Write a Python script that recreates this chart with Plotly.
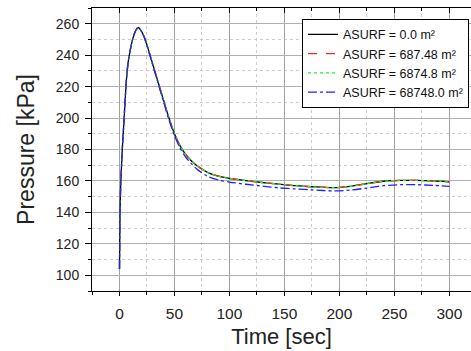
import plotly.graph_objects as go

time_s = [0, 0.5, 1, 2, 3, 4, 5, 6.5, 8, 10, 12.5, 15, 17, 19, 22, 25, 28, 31, 34, 37, 40,
          45, 50, 55, 60, 65, 70, 80, 90, 100, 115, 130, 145, 160, 175, 195, 210, 225, 240,
          255, 270, 285, 300]

p_0 = [104, 140, 155, 172, 186, 197, 210, 226, 236, 244, 251.5, 256, 257.6, 256.3, 252.5,
       246.5, 239.5, 232.5, 225.5, 218.5, 211.5, 200, 190, 182.5, 177, 173, 170, 165.5,
       163, 161.6, 160.2, 159, 158, 157, 156.3, 155.7, 156.6, 158.3, 159.8, 160.3, 160.3,
       160, 159.4]
p_687 = [104, 140, 155, 172, 186, 197, 210, 226, 236, 244, 251.5, 256, 257.6, 256.3, 252.5,
         246.5, 239.5, 232.5, 225.5, 218.5, 211.5, 200, 190, 182.5, 177, 173, 170, 165.5,
         163, 161.6, 160.2, 159, 158, 157, 156.3, 155.7, 156.6, 158.3, 159.8, 160.3, 160.3,
         160, 159.4]
p_6874 = [104, 140, 155, 172, 186, 197, 210, 226, 236, 244, 251.5, 256, 257.6, 256.3, 252.5,
          246.5, 239.5, 232.5, 225.5, 218.5, 211.5, 200, 190, 182.5, 177, 173, 170, 165.5,
          163, 161.6, 160.2, 159, 158, 157, 156.3, 155.7, 156.6, 158.3, 159.8, 160.3, 160.3,
          160, 159.4]
p_68748 = [104, 140, 155, 172, 186, 197, 210, 226, 236, 244, 251.5, 256, 257.6, 256.2, 252.2,
           246, 239, 231.8, 224.8, 217.6, 210.5, 198.8, 188.8, 181, 175.3, 171.3, 167.8, 163,
           160.6, 159.3, 157.9, 156.7, 155.6, 154.9, 154.3, 153.7, 154.2, 155.5, 157, 157.6,
           157.6, 157.2, 156.6]

names = ["ASURF = 0.0 m²", "ASURF = 687.48 m²", "ASURF = 6874.8 m²", "ASURF = 68748.0 m²"]
series = [p_0, p_687, p_6874, p_68748]
colors = ["#000000", "#ff2020", "#22ee22", "#2020ff"]
dashes = ["solid", "dash", "dot", "dashdot"]

x_major = [0, 50, 100, 150, 200, 250, 300]
y_major = [100, 120, 140, 160, 180, 200, 220, 240, 260]

fig = go.Figure()
for nm, ys, c, d in zip(names, series, colors, dashes):
    fig.add_trace(go.Scatter(x=time_s, y=ys, mode="lines", name=nm,
                             line=dict(color=c, dash=d, width=1.3, shape="spline",
                                       smoothing=0.8)))

# invisible trace to carry the top axis
fig.add_trace(go.Scatter(x=[0], y=[100], xaxis="x2", mode="markers",
                         marker=dict(opacity=0), showlegend=False, hoverinfo="skip"))

xr = [-25, 319.7]
fig.update_layout(
    width=471, height=351,
    margin=dict(l=92, r=0, t=8, b=60, autoexpand=False),
    paper_bgcolor="white", plot_bgcolor="white",
    font=dict(family="Arial, Liberation Sans, sans-serif", color="#222222"),
    showlegend=True,
    legend=dict(x=0.554, y=0.962, xanchor="left", yanchor="top",
                bgcolor="white", bordercolor="black", borderwidth=1,
                font=dict(size=12.5, color="#111111"), itemwidth=30,
                tracegroupgap=0),
    xaxis=dict(range=xr, tickvals=x_major, showline=True, linecolor="black", linewidth=1,
               ticks="outside", ticklen=4, tickcolor="black", tickwidth=1,
               showgrid=True, gridcolor="#a0a0a0", gridwidth=1, automargin=False,
               zeroline=False, tickfont=dict(size=15.5), ticklabelstandoff=4,
               minor=dict(dtick=25, tick0=0, ticks="outside", ticklen=3, tickcolor="black",
                          showgrid=True, gridcolor="#cccccc", griddash="dot", gridwidth=1),
               title=dict(text="Time [sec]", font=dict(size=22), standoff=8)),
    xaxis2=dict(range=xr, overlaying="x", side="top", tickvals=x_major,
                showticklabels=False, showline=True, linecolor="black", linewidth=1,
                ticks="inside", ticklen=5, tickcolor="black", showgrid=False,
                zeroline=False, automargin=False,
                minor=dict(dtick=25, tick0=0, ticks="inside", ticklen=3, tickcolor="black",
                           showgrid=False)),
    yaxis=dict(range=[90, 270], tickvals=y_major, showline=True, linecolor="black",
               linewidth=1, ticks="outside", ticklen=6, tickcolor="black",
               showgrid=True, gridcolor="#b0b0b0", gridwidth=1.3, zeroline=False,
               tickfont=dict(size=14), ticklabelstandoff=3, automargin=False,
               minor=dict(dtick=10, tick0=0, ticks="outside", ticklen=3, tickcolor="black",
                          showgrid=True, gridcolor="#cccccc", griddash="dot", gridwidth=1),
               title=dict(text="Pressure [kPa]", font=dict(size=23), standoff=14)),
)

fig.write_html("out.html")
